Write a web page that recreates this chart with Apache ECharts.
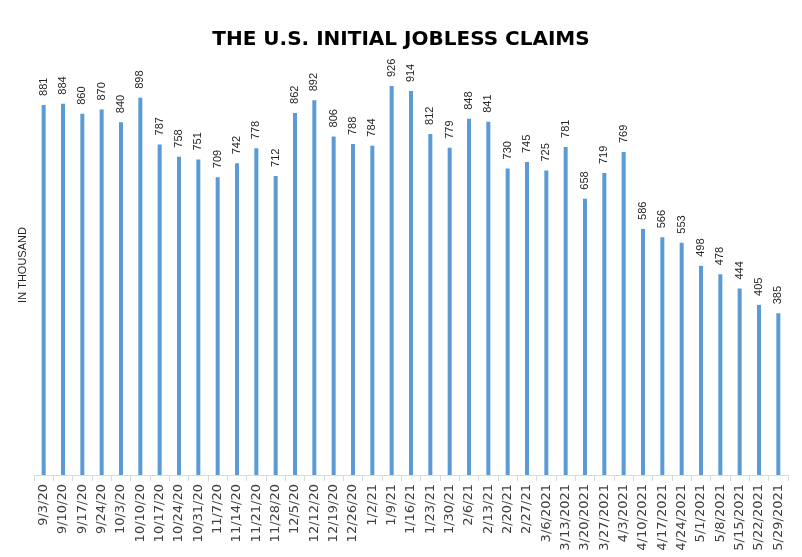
<!DOCTYPE html>
<html><head><meta charset="utf-8">
<script src="https://cdn.jsdelivr.net/npm/echarts@6/dist/echarts.min.js"></script>
<style>html,body{margin:0;padding:0;background:#fff}#c{width:802px;height:557px}</style>
</head><body><div id="c"></div>
<script>
const categories = ["9/3/20","9/10/20","9/17/20","9/24/20","10/3/20","10/10/20","10/17/20","10/24/20","10/31/20","11/7/20","11/14/20","11/21/20","11/28/20","12/5/20","12/12/20","12/19/20","12/26/20","1/2/21","1/9/21","1/16/21","1/23/21","1/30/21","2/6/21","2/13/21","2/20/21","2/27/21","3/6/2021","3/13/2021","3/20/2021","3/27/2021","4/3/2021","4/10/2021","4/17/2021","4/24/2021","5/1/2021","5/8/2021","5/15/2021","5/22/2021","5/29/2021"];
const claims = [881,884,860,870,840,898,787,758,751,709,742,778,712,862,892,806,788,784,926,914,812,779,848,841,730,745,725,781,658,719,769,586,566,553,498,478,444,405,385];
const titleText = "THE U.S. INITIAL JOBLESS CLAIMS";
const yName = "IN THOUSAND";

const chart = echarts.init(document.getElementById('c'));
chart.setOption({
  animation: false,
  title: {
    text: titleText, left: 'center', top: 25,
    textStyle: {fontFamily: 'DejaVu Sans', fontWeight: 'bold', fontSize: 20, color: '#000'}
  },
  grid: {left: 34, right: 14, top: 55, bottom: 82},
  xAxis: {
    type: 'category', data: categories, boundaryGap: true,
    axisLine: {lineStyle: {color: '#d9d9d9', width: 1}},
    axisTick: {show: true, length: 6, lineStyle: {color: '#d9d9d9'}},
    axisLabel: {rotate: 90, interval: 0, margin: 9, fontFamily: 'DejaVu Sans', fontSize: 13, color: '#404040'}
  },
  yAxis: {
    type: 'value', min: 0, max: 1000,
    name: yName, nameLocation: 'middle', nameGap: 6,
    nameTextStyle: {fontFamily: 'Liberation Sans', fontSize: 11, color: '#262626'},
    axisLine: {show: false}, axisTick: {show: false}, axisLabel: {show: false}, splitLine: {show: false}
  },
  series: [{
    type: 'bar', data: claims, barWidth: 4,
    itemStyle: {color: '#5b9bd5'},
    label: {
      show: true, position: 'top', rotate: 90, align: 'left', verticalAlign: 'middle', distance: 9,
      fontFamily: 'Liberation Sans', fontSize: 11, color: '#262626'
    }
  }]
});
</script></body></html>
